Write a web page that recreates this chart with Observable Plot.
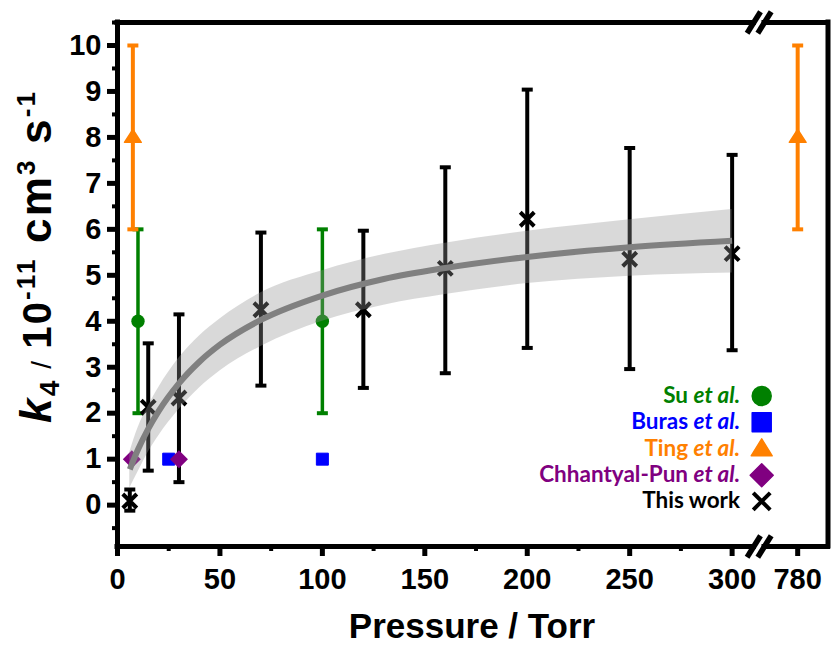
<!DOCTYPE html>
<html><head><meta charset="utf-8">
<script src="https://cdn.jsdelivr.net/npm/d3@7"></script>
<script src="https://cdn.jsdelivr.net/npm/@observablehq/plot@0.6"></script>
<style>
html,body{margin:0;padding:0;background:#fff;}
#chart{width:831px;height:645px;}
</style></head><body><div id="chart"></div>
<script>
// ---------------- data ----------------
const suP = [10, 100];
const suK = [4, 4];
const suLo = [2, 2];
const suHi = [6, 6];

const burasP = [25, 100];
const burasK = [1, 1];

const tingP = [7.5, 780];
const tingK = [8, 8];
const tingLo = [6, 6];
const tingHi = [10, 10];

const chhP = [7, 30];
const chhK = [1, 1];

const workP  = [6, 15, 30, 70, 120, 160, 200, 250, 300];
const workK  = [0.09, 2.13, 2.33, 4.25, 4.25, 5.15, 6.22, 5.35, 5.47];
const workLo = [-0.12, 0.75, 0.5, 2.6, 2.55, 2.87, 3.42, 2.96, 3.37];
const workHi = [0.34, 3.52, 4.15, 5.93, 5.97, 7.35, 9.04, 7.77, 7.62];

// fitted curve and its confidence band
const fitP  = [6, 10, 15, 20, 30, 40, 50, 70, 100, 130, 160, 200, 250, 300];
const fitK  = [0.78, 1.21, 1.66, 2.04, 2.65, 3.12, 3.49, 4.03, 4.56, 4.92, 5.16, 5.40, 5.61, 5.75];
const fitLo = [0.37, 0.72, 1.15, 1.50, 2.08, 2.55, 2.92, 3.45, 4.00, 4.35, 4.58, 4.82, 4.98, 5.05];
const fitHi = [1.15, 1.68, 2.15, 2.55, 3.20, 3.68, 4.05, 4.62, 5.10, 5.45, 5.70, 5.96, 6.21, 6.43];

const xTickLabels = [0, 50, 100, 150, 200, 250, 300, 780];
const xMinorTicks = [25, 75, 125, 175, 225, 275];
const yTickLabels = [0, 1, 2, 3, 4, 5, 6, 7, 8, 9, 10];
const yMinorTicks = [-0.5, 0.5, 1.5, 2.5, 3.5, 4.5, 5.5, 6.5, 7.5, 8.5, 9.5, 10.5];

const seriesNames  = ["Su", "Buras", "Ting", "Chhantyal-Pun", "This work"];
const seriesColors = ["#008000", "#0000ff", "#ff8000", "#800080", "#000000"];

// ---------------- layout ----------------
const W = 831, H = 645;
const mL = 117, mR = 3.5, mT = 22, mB = 99;
const breakAt = 300, afterBreak = 780, afterPos = 332;
const toU = p => (p <= breakAt ? p : afterPos + (p - afterBreak));
const xMax = 346.8, yMin = -0.9, yMax = 10.5;
const kx = (W - mL - mR) / xMax, ky = (H - mT - mB) / (yMax - yMin);

const rows = (P, K, lo, hi) => P.map((p, i) => ({u: toU(p), k: K[i], lo: lo ? lo[i] : null, hi: hi ? hi[i] : null}));
const su = rows(suP, suK, suLo, suHi);
const buras = rows(burasP, burasK);
const ting = rows(tingP, tingK, tingLo, tingHi);
const chh = rows(chhP, chhK);
const work = rows(workP, workK, workLo, workHi);
const fit = rows(fitP, fitK, fitLo, fitHi);

// custom symbols
const sym = f => ({draw(ctx, size) { f(ctx, Math.sqrt(size / Math.PI)); }});
const capSym = sym((c, r) => { c.moveTo(-r, 0); c.lineTo(r, 0); });
const timesSym = sym((c, r) => { c.moveTo(-r, -r); c.lineTo(r, r); c.moveTo(-r, r); c.lineTo(r, -r); });
const diamondSym = sym((c, r) => { c.moveTo(0, -r); c.lineTo(r, 0); c.lineTo(0, r); c.lineTo(-r, 0); c.closePath(); });
const triSym = sym((c, r) => { c.moveTo(0, -r); c.lineTo(r * 1.05, r * 0.62); c.lineTo(-r * 1.05, r * 0.62); c.closePath(); });
const squareSym = sym((c, r) => { c.rect(-r, -r, 2 * r, 2 * r); });

const errMarks = (data, color, sw) => [
  Plot.ruleX(data, {x: "u", y1: "lo", y2: "hi", stroke: color, strokeWidth: sw}),
  Plot.dot(data, {x: "u", y: "lo", symbol: capSym, r: 5.5, fill: "none", stroke: color, strokeWidth: 4}),
  Plot.dot(data, {x: "u", y: "hi", symbol: capSym, r: 5.5, fill: "none", stroke: color, strokeWidth: 4})
];

// break marks
const gapL = (753.3 - mL) / kx, gapR = (764 - mL) / kx;
const sdx = 6.7 / kx, sdy = 10.8 / ky;
const slashes = [];
for (const yy of [yMin, yMax]) for (const c of [gapL, gapR]) slashes.push({x1: c - sdx, y1: yy - sdy, x2: c + sdx, y2: yy + sdy});

const xTickPos = xTickLabels.map(toU);
const fmtX = u => String(xTickLabels[xTickPos.indexOf(u)]);

const plot = Plot.plot({
  width: W, height: H,
  marginLeft: mL, marginRight: mR, marginTop: mT, marginBottom: mB,
  style: {fontFamily: "'Liberation Sans', Arial, sans-serif", fontWeight: "bold", fontSize: "29px", background: "#fff", color: "#000"},
  x: {type: "linear", domain: [0, xMax], label: null},
  y: {domain: [yMin, yMax], label: null},
  marks: [
    ...errMarks(su, seriesColors[0], 3.5),
    ...errMarks(ting, seriesColors[2], 4),
    ...errMarks(work, seriesColors[4], 4),
    Plot.dot(su, {x: "u", y: "k", symbol: "circle", r: 6.7, fill: seriesColors[0]}),
    Plot.dot(buras, {x: "u", y: "k", symbol: squareSym, r: 6, fill: seriesColors[1], stroke: seriesColors[1], strokeWidth: 1, strokeLinejoin: "round"}),
    Plot.dot(ting, {x: "u", y: "k", symbol: triSym, r: 8, fill: seriesColors[2], stroke: seriesColors[2], strokeWidth: 1.5, strokeLinejoin: "round"}),
    Plot.dot(chh, {x: "u", y: "k", symbol: diamondSym, r: 9, fill: seriesColors[3]}),
    Plot.dot(work, {x: "u", y: "k", symbol: timesSym, r: 7, fill: "none", stroke: seriesColors[4], strokeWidth: 4}),
    Plot.areaY(fit, {x: "u", y1: "lo", y2: "hi", fill: "#919191", fillOpacity: 0.35, curve: "monotone-x"}),
    Plot.line(fit, {x: "u", y: "k", stroke: "#808080", strokeWidth: 6, curve: "monotone-x", strokeLinecap: "butt"}),
    // frame with broken x axis
    Plot.ruleX([0, xMax], {y1: yMin, y2: yMax, strokeWidth: 5, strokeLinecap: "square"}),
    Plot.ruleY([yMin, yMax], {x1: 0, x2: gapL, strokeWidth: 5, strokeLinecap: "square"}),
    Plot.ruleY([yMin, yMax], {x1: gapR, x2: xMax, strokeWidth: 5, strokeLinecap: "square"}),
    Plot.link(slashes, {x1: "x1", y1: "y1", x2: "x2", y2: "y2", strokeWidth: 5.5}),
    // axes
    Plot.axisY({ticks: yTickLabels, tickSize: 10, tickPadding: 6, strokeWidth: 5, fontSize: 29, fontWeight: "bold", label: null}),
    Plot.axisY({ticks: yMinorTicks, tickSize: 5, strokeWidth: 4, tickFormat: () => "", label: null}),
    Plot.axisX({ticks: xTickPos, tickFormat: fmtX, tickSize: 10, tickPadding: 12, strokeWidth: 5, fontSize: 29, fontWeight: "bold", label: null}),
    Plot.axisX({ticks: xMinorTicks, tickSize: 5, strokeWidth: 4, tickFormat: () => "", label: null})
  ]
});

const svg = d3.select(plot);

// axis titles
svg.append("text").attr("x", 472).attr("y", 638).attr("text-anchor", "middle")
  .attr("font-size", 35).attr("font-weight", "bold").attr("font-family", "'Liberation Sans', Arial, sans-serif")
  .text("Pressure / Torr");

const yl = svg.append("text").attr("transform", "translate(51,257.5) rotate(-90)")
  .attr("text-anchor", "middle").attr("font-family", "'Liberation Sans', Arial, sans-serif")
  .attr("font-weight", "bold").attr("font-size", 44).style("white-space", "pre")
  .attr("textLength", 331).attr("lengthAdjust", "spacing");
yl.append("tspan").attr("font-style", "italic").text("k");
yl.append("tspan").attr("font-size", 28).attr("dy", 8).text("4");
yl.append("tspan").attr("font-size", 28).attr("font-weight", "normal").attr("dy", -8).text(" / ");
yl.append("tspan").attr("font-size", 40).text("10");
yl.append("tspan").attr("font-size", 26).attr("dy", -16).text("-11");
yl.append("tspan").attr("dy", 16).text(" cm");
yl.append("tspan").attr("font-size", 26).attr("dy", -16).text("3");
yl.append("tspan").attr("dy", 16).text(" s");
yl.append("tspan").attr("font-size", 26).attr("dy", -16).text("-1");

// legend
const legendSyms = [
  {type: "circle", r: 9.5},
  {type: "square", r: 9.5},
  {type: "tri", r: 10},
  {type: "diamond", r: 11.5},
  {type: "times", r: 8.5}
];
const baselines = [403, 429.3, 455.8, 482.3, 508.3];
const leg = svg.append("g").attr("font-family", "Lato, 'Open Sans', sans-serif").attr("font-size", 22.5).attr("font-weight", "bold");
seriesNames.forEach((name, i) => {
  const col = seriesColors[i];
  const t = leg.append("text").attr("x", 740).attr("y", baselines[i]).attr("text-anchor", "end").attr("fill", col).style("white-space", "pre");
  if (i < 4) {
    t.append("tspan").text(name + " ");
    t.append("tspan").attr("font-style", "italic").text("et al.");
  } else {
    t.text(name);
  }
  const s = legendSyms[i];
  const cx = 761.7, cy = baselines[i] - 7;
  const p = d3.path();
  const r = s.r;
  if (s.type === "circle") { p.arc(0, 0, r, 0, 2 * Math.PI); }
  else if (s.type === "square") { p.rect(-r, -r, 2 * r, 2 * r); }
  else if (s.type === "tri") { p.moveTo(0, -r); p.lineTo(r * 1.05, r * 0.7); p.lineTo(-r * 1.05, r * 0.7); p.closePath(); }
  else if (s.type === "diamond") { p.moveTo(0, -r); p.lineTo(r, 0); p.lineTo(0, r); p.lineTo(-r, 0); p.closePath(); }
  else { p.moveTo(-r, -r); p.lineTo(r, r); p.moveTo(-r, r); p.lineTo(r, -r); }
  const el = leg.append("path").attr("d", p.toString()).attr("transform", `translate(${cx},${cy})`);
  if (s.type === "times") el.attr("fill", "none").attr("stroke", col).attr("stroke-width", 4);
  else el.attr("fill", col).attr("stroke", col).attr("stroke-width", 1.5).attr("stroke-linejoin", "round");
});

document.getElementById("chart").appendChild(plot);
</script></body></html>
